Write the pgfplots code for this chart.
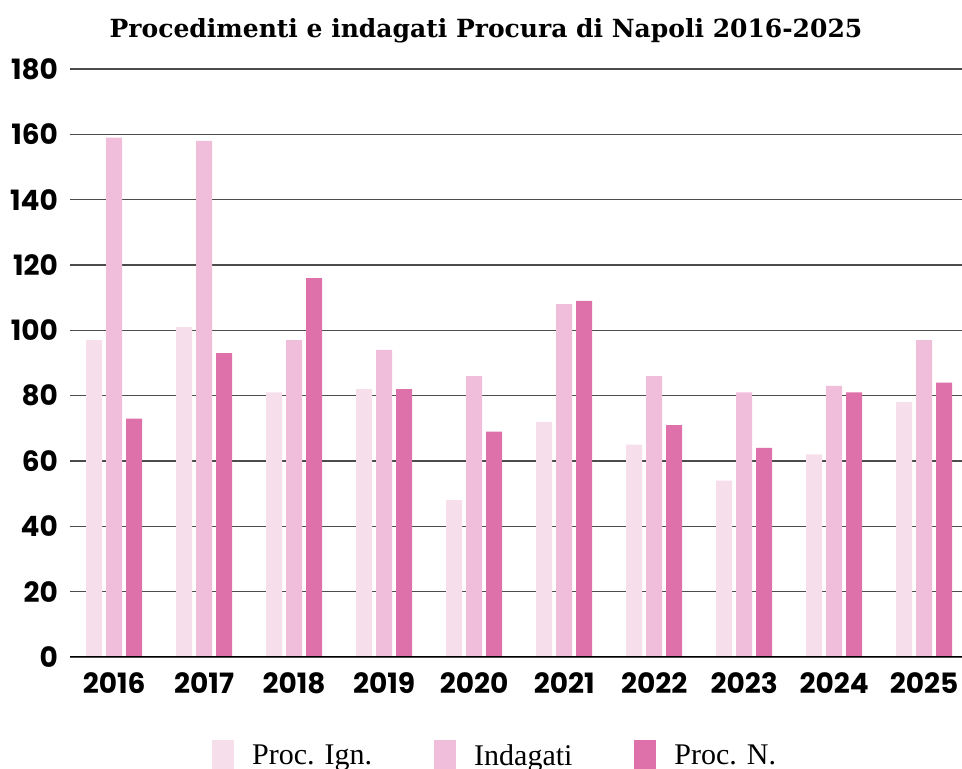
\documentclass[border=0pt]{standalone}
\usepackage{pgfplots}
\pgfplotsset{compat=1.18}
\usepackage{fontspec}
\setmainfont{DejaVu Serif}
\newfontfamily\tickfont{Poppins}
\newfontfamily\legfont{Liberation Serif}
\definecolor{cA}{HTML}{F6DEEB}
\definecolor{cB}{HTML}{F0BEDA}
\definecolor{cC}{HTML}{DE71A9}
\begin{document}
\begin{tikzpicture}
\useasboundingbox (-35pt,-56pt) rectangle (446pt,328.5pt);
\clip (-35pt,-56pt) rectangle (446pt,328.5pt);
\begin{axis}[
  scale only axis, width=446pt, height=294pt,
  xmin=-0.49, xmax=9.42, ymin=0, ymax=180,
  ybar=2pt, bar width=8pt,
  xtick={0,1,2,3,4,5,6,7,8,9},
  xticklabels={2016,2017,2018,2019,2020,2021,2022,2023,2024,2025},
  ytick={0,20,...,180},
  ymajorgrids, grid style={black!70, line width=0.75pt},
  axis line style={draw=none},
  major tick length=0pt,
  tick label style={font=\tickfont\bfseries\fontsize{14}{16}\selectfont},
  /pgf/number format/assume math mode=true,
  yticklabel style={xshift=-2.5pt},
  xticklabel style={yshift=-4.5pt},
  legend columns=3, legend cell align=left,
  legend style={draw=none, fill=none, at={(0.159,-0.141)}, anchor=north west,
    inner sep=0pt, font=\legfont\fontsize{15}{17}\selectfont,
    /tikz/every odd column/.append style={column sep=7pt},
    /tikz/every even column/.append style={column sep=29pt}},
]
\addplot[fill=cA, draw=none, legend image code/.code={\fill[cA] (0pt,-9pt) rectangle (11pt,8pt);}] coordinates {(0,97)(1,101)(2,81)(3,82)(4,48)(5,72)(6,65)(7,54)(8,62)(9,78)};
\addplot[fill=cB, draw=none, legend image code/.code={\fill[cB] (0pt,-9pt) rectangle (11pt,8pt);}] coordinates {(0,159)(1,158)(2,97)(3,94)(4,86)(5,108)(6,86)(7,81)(8,83)(9,97)};
\addplot[fill=cC, draw=none, legend image code/.code={\fill[cC] (0pt,-9pt) rectangle (11pt,8pt);}] coordinates {(0,73)(1,93)(2,116)(3,82)(4,69)(5,109)(6,71)(7,64)(8,81)(9,84)};
\legend{Proc. Ign., Indagati, Proc. N.}
\draw[black, line width=0.8pt] (axis cs:-0.49,0) -- (axis cs:9.42,0);
\end{axis}
\node[font=\bfseries\fontsize{12.5}{15}\selectfont] at (208pt,313pt) {Procedimenti e indagati Procura di Napoli 2016-2025};
\end{tikzpicture}
\end{document}
